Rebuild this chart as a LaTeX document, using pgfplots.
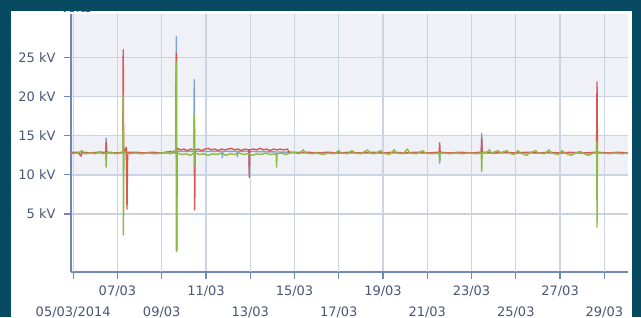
\documentclass[border=0pt]{standalone}
\usepackage{pgfplots}
\pgfplotsset{compat=1.18}
\usepackage{fontspec}
\setmainfont{DejaVu Sans}
\definecolor{bgdark}{RGB}{8,74,98}
\definecolor{band}{RGB}{239,241,246}
\definecolor{gridc}{RGB}{203,212,228}
\definecolor{axisc}{RGB}{112,136,184}
\definecolor{lab}{RGB}{74,86,118}
\definecolor{sblue}{RGB}{124,164,214}
\definecolor{sred}{RGB}{214,88,84}
\definecolor{sgreen}{RGB}{142,186,64}

\pgfplotstableread{
x y
4.90 12.8
6.00 12.8
6.47 12.8
6.49 14.7
6.51 12.8
7.24 12.8
7.26 14.0
7.28 12.8
9.64 12.8
9.66 27.7
9.67 0.3
9.69 13.0
10.45 13.0
10.47 22.2
10.49 13.0
11.72 13.0
11.74 12.2
11.76 13.0
12.40 13.0
12.42 12.3
12.44 13.0
12.94 13.0
12.96 10.0
12.98 13.0
14.70 12.9
17.00 12.8
21.54 12.8
21.56 11.5
21.58 12.8
23.44 12.8
23.46 15.3
23.48 12.8
26.00 12.8
30.07 12.8
}\blueseries

\pgfplotstableread{
x y
4.90 12.9
5.20 12.9
5.36 12.4
5.40 12.9
5.80 12.8
6.10 12.9
6.47 12.9
6.49 14.2
6.51 12.9
6.90 12.8
7.24 12.9
7.26 26.0
7.28 12.9
7.40 13.5
7.43 5.6
7.46 12.9
7.80 12.9
8.20 12.8
8.60 12.9
9.00 12.8
9.40 13.0
9.64 12.9
9.66 25.6
9.67 0.3
9.69 13.4
9.85 13.2
10.00 13.3
10.15 13.1
10.30 13.3
10.45 13.2
10.47 13.2
10.49 5.5
10.51 13.2
10.65 13.3
10.80 13.1
10.95 13.3
11.10 13.4
11.25 13.2
11.40 13.3
11.55 13.1
11.70 13.3
11.85 13.2
12.00 13.3
12.15 13.4
12.30 13.2
12.45 13.3
12.60 13.1
12.75 13.3
12.94 13.2
12.96 9.7
12.98 13.2
13.15 13.3
13.30 13.2
13.45 13.4
13.60 13.2
13.75 13.3
13.90 13.1
14.05 13.3
14.20 13.2
14.35 13.3
14.50 13.2
14.68 13.3
14.75 12.9
15.20 12.8
15.60 12.9
16.00 12.8
16.50 12.9
17.00 12.8
17.50 12.9
18.00 12.8
18.50 12.9
19.00 12.8
19.50 12.9
20.00 12.8
20.50 12.9
21.00 12.8
21.54 12.9
21.56 14.1
21.58 12.9
22.00 12.8
22.50 12.9
23.00 12.8
23.44 12.9
23.46 14.7
23.48 12.9
24.00 12.8
24.50 12.9
25.00 12.8
25.50 12.9
26.00 12.8
26.50 12.9
27.00 12.8
27.50 12.9
28.00 12.8
28.65 12.9
28.67 21.9
28.69 12.9
29.20 12.8
29.60 12.9
30.07 12.8
}\redseries

\pgfplotstableread{
x y
4.90 12.7
5.20 12.8
5.40 13.1
5.50 12.7
5.80 12.8
6.00 12.7
6.20 13.0
6.30 12.7
6.47 12.8
6.49 11.0
6.51 12.8
6.70 12.9
6.90 12.7
7.10 12.8
7.24 12.8
7.26 20.3
7.27 2.3
7.29 12.8
7.50 12.7
7.80 12.8
8.10 12.7
8.40 12.8
8.70 12.7
9.00 12.8
9.20 12.9
9.40 12.7
9.55 13.1
9.64 12.8
9.66 24.4
9.67 0.2
9.69 12.8
9.90 12.6
10.10 12.7
10.30 12.5
10.45 12.8
10.47 17.7
10.49 11.2
10.51 12.8
10.70 12.6
10.90 12.7
11.10 12.5
11.30 12.7
11.50 12.6
11.70 12.8
11.90 12.5
12.10 12.7
12.30 12.6
12.50 12.8
12.70 12.6
12.90 12.7
13.10 12.5
13.30 12.7
13.50 12.6
13.70 12.8
13.90 12.6
14.17 12.7
14.19 11.0
14.21 12.7
14.40 12.8
14.60 12.6
14.80 12.8
15.00 12.9
15.20 12.7
15.40 13.2
15.50 12.8
15.80 12.7
16.00 12.8
16.30 12.6
16.50 12.8
16.80 12.7
17.00 13.1
17.10 12.8
17.40 12.7
17.60 13.1
17.70 12.8
18.00 12.7
18.30 13.2
18.40 12.8
18.60 12.7
18.90 13.1
19.00 12.8
19.30 12.6
19.50 13.2
19.60 12.8
19.90 12.7
20.10 13.3
20.20 12.8
20.50 12.7
20.80 13.1
20.90 12.8
21.20 12.7
21.54 12.8
21.56 11.7
21.58 12.8
21.80 12.8
22.00 12.7
22.30 12.8
22.60 12.7
22.90 12.8
23.20 12.7
23.44 12.8
23.46 10.4
23.48 12.8
23.70 12.9
23.80 13.2
23.90 12.8
24.20 13.1
24.30 12.8
24.60 13.1
24.70 12.8
24.90 12.6
25.10 13.1
25.20 12.8
25.50 12.5
25.60 12.8
25.90 13.1
26.00 12.8
26.30 12.7
26.50 13.2
26.60 12.8
26.90 12.6
27.10 13.1
27.20 12.8
27.50 12.5
27.70 12.8
27.90 13.0
28.10 12.7
28.30 12.5
28.50 12.8
28.65 12.8
28.66 14.2
28.67 3.3
28.69 12.8
28.90 12.8
29.20 12.7
29.50 12.8
29.80 12.7
30.07 12.8
}\greenseries

\pgfplotsset{
  common/.style={
    at={(71pt,45pt)}, anchor=south west, scale only axis,
    width=557pt, height=258pt,
    xmin=4.9, xmax=30.07, ymin=-2.44, ymax=30.6,
  }
}

\begin{document}
\begin{tikzpicture}
\fill[bgdark] (0pt,0pt) rectangle (641pt,317pt);
\fill[white] (11pt,0pt) rectangle (632pt,306pt);
\node[font=\fontsize{13}{15}\selectfont, text=lab, anchor=base, inner sep=0pt] at (76pt,304.5pt) {Volts};
\fill[bgdark] (0pt,306pt) rectangle (641pt,330pt);
% plot bands
\begin{axis}[common, hide axis]
\addplot[fill=band, draw=none] coordinates {(4.9,20) (30.07,20) (30.07,30.6) (4.9,30.6)} -- cycle;
\addplot[fill=band, draw=none] coordinates {(4.9,10) (30.07,10) (30.07,15) (4.9,15)} -- cycle;
\end{axis}
\begin{axis}[
  common,
  axis lines*=left,
  axis line style={axisc, line width=2pt},
  tick style={axisc, line width=1.2pt},
  tick align=outside, major tick length=7pt,
  grid=major, major grid style={gridc, line width=1.3pt},
  ytick={5,10,15,20,25},
  yticklabels={5 kV,10 kV,15 kV,20 kV,25 kV},
  yticklabel style={xshift=-5pt},
  xtick={7,11,15,19,23,27},
  xticklabels={07/03,11/03,15/03,19/03,23/03,27/03},
  xticklabel style={yshift=-3pt},
  extra x ticks={5,9,13,17,21,25,29},
  extra x tick labels={05/03/2014,09/03,13/03,17/03,21/03,25/03,29/03},
  extra x tick style={grid=major, xticklabel style={yshift=-21.5pt}},
  tick label style={font=\fontsize{13}{15}\selectfont, text=lab},
  every axis plot/.append style={line width=1.4pt, line join=round},
]
\addplot[sblue, no markers] table {\blueseries};
\addplot[sred, no markers] table {\redseries};
\addplot[sgreen, no markers] table {\greenseries};
\end{axis}
\pgfresetboundingbox
\path[use as bounding box] (0pt,0pt) rectangle (641pt,317pt);
\end{tikzpicture}
\end{document}
